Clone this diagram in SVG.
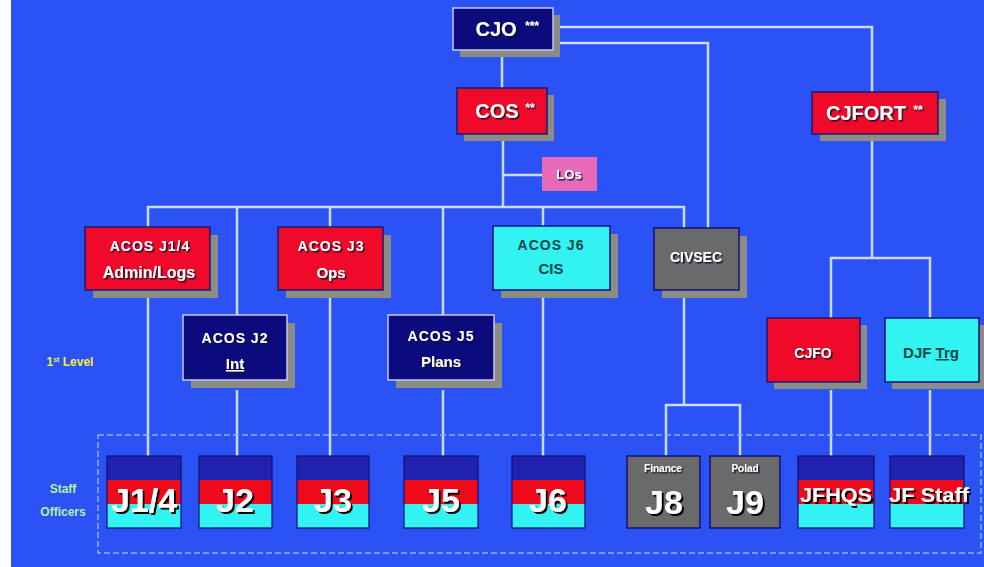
<svg xmlns="http://www.w3.org/2000/svg" width="984" height="567" viewBox="0 0 984 567">
<defs>
<filter id="ts" x="-10%" y="-10%" width="130%" height="140%"><feDropShadow dx="1.5" dy="1.5" stdDeviation="0.4" flood-color="#101030" flood-opacity="0.9"/></filter>
<filter id="tb" x="-10%" y="-10%" width="130%" height="140%"><feDropShadow dx="2" dy="2" stdDeviation="0.5" flood-color="#000000" flood-opacity="1"/></filter>
</defs>
<style>
text{font-family:"Liberation Sans",Arial,sans-serif;font-weight:bold;text-anchor:middle}
.sh{fill:#8c8c86}
.navy{fill:#0b0b7e;stroke:#c8c8ec;stroke-width:1.5}
.red{fill:#ee0a28;stroke:#1a1a70;stroke-width:1.5}
.cyan{fill:#33f2f2;stroke:#10107a;stroke-width:1.5}
.gray{fill:#6a6a6a;stroke:#10107a;stroke-width:1.5}
.pink{fill:#e66ab8}
.wt{fill:#ffffff;filter:url(#ts)}
.dt{fill:#004848}
.ln{fill:none;stroke:#c9dcff;stroke-width:2.5}
.bt{fill:#2222b0}
.br{fill:#ee0a1a}
.bc{fill:#33f2f2}
.bo{fill:none;stroke:#101070;stroke-width:1.2}
.big{fill:#ffffff;font-size:34px;filter:url(#tb)}
.mid{fill:#ffffff;font-size:20px;filter:url(#tb)}
</style>
<rect x="0" y="0" width="984" height="567" fill="#ffffff"/>
<rect x="11" y="0" width="973" height="567" fill="#2b52f4"/>

<g id="connectors">
<polyline class="ln" points="560,27 872,27 872,92"/>
<polyline class="ln" points="560,43 708,43 708,228"/>
<line class="ln" x1="502" y1="50" x2="502" y2="88"/>
<line class="ln" x1="503" y1="140" x2="503" y2="207"/>
<line class="ln" x1="503" y1="175" x2="542" y2="175"/>
<polyline class="ln" points="148,227 148,207 684,207 684,228"/>
<line class="ln" x1="237" y1="207" x2="237" y2="315"/>
<line class="ln" x1="330" y1="207" x2="330" y2="227"/>
<line class="ln" x1="443" y1="207" x2="443" y2="315"/>
<line class="ln" x1="543" y1="207" x2="543" y2="226"/>
<line class="ln" x1="872" y1="141" x2="872" y2="258"/>
<polyline class="ln" points="831,318 831,258 930,258 930,318"/>
<line class="ln" x1="148" y1="298" x2="148" y2="456"/>
<line class="ln" x1="237" y1="390" x2="237" y2="456"/>
<line class="ln" x1="330" y1="298" x2="330" y2="456"/>
<line class="ln" x1="443" y1="390" x2="443" y2="456"/>
<line class="ln" x1="543" y1="298" x2="543" y2="456"/>
<line class="ln" x1="684" y1="298" x2="684" y2="405"/>
<polyline class="ln" points="666,456 666,405 740,405 740,456"/>
<line class="ln" x1="831" y1="390" x2="831" y2="456"/>
<line class="ln" x1="930" y1="390" x2="930" y2="456"/>
</g>

<rect x="98" y="435" width="883" height="118" fill="none" stroke="#8fb2ff" stroke-width="1.5" stroke-dasharray="6 3"/>

<text x="70" y="366" font-size="12" fill="#f0f040">1<tspan font-size="7" dy="-4">st</tspan><tspan dy="4"> Level</tspan></text>
<text x="63" y="493" font-size="12" fill="#b4f0a8">Staff</text>
<text x="63" y="516" font-size="12" fill="#b4f0a8">Officers</text>

<g id="cjo">
<rect class="sh" x="460" y="15" width="100" height="42"/>
<rect class="navy" x="453" y="8" width="100" height="42"/>
<text class="wt" x="496" y="36" font-size="20">CJO</text>
<text class="wt" x="532" y="30" font-size="12">***</text>
</g>
<g id="cos">
<rect class="sh" x="464" y="95" width="90" height="46"/>
<rect class="red" x="457" y="88" width="90" height="46"/>
<text class="wt" x="497" y="118" font-size="20">COS</text>
<text class="wt" x="530" y="112" font-size="12">**</text>
</g>
<g id="cjfort">
<rect class="sh" x="820" y="99" width="126" height="42"/>
<rect class="red" x="812" y="92" width="126" height="42"/>
<text class="wt" x="866" y="120" font-size="20">CJFORT</text>
<text class="wt" x="918" y="114" font-size="12">**</text>
</g>
<g id="los">
<rect class="pink" x="542" y="157" width="55" height="34"/>
<text class="wt" x="569" y="179" font-size="13">LOs</text>
</g>
<g id="acos-j14">
<rect class="sh" x="93" y="235" width="125" height="63"/>
<rect class="red" x="85" y="227" width="125" height="63"/>
<text class="wt" x="150" y="251" font-size="14" letter-spacing="1">ACOS J1/4</text>
<text class="wt" x="149" y="278" font-size="16">Admin/Logs</text>
</g>
<g id="acos-j3">
<rect class="sh" x="286" y="235" width="105" height="63"/>
<rect class="red" x="278" y="227" width="105" height="63"/>
<text class="wt" x="331" y="251" font-size="14" letter-spacing="1">ACOS J3</text>
<text class="wt" x="331" y="278" font-size="15">Ops</text>
</g>
<g id="acos-j6">
<rect class="sh" x="501" y="234" width="117" height="64"/>
<rect class="cyan" x="493" y="226" width="117" height="64"/>
<text class="dt" x="551" y="250" font-size="14" letter-spacing="1">ACOS J6</text>
<text class="dt" x="551" y="274" font-size="15">CIS</text>
</g>
<g id="civsec">
<rect class="sh" x="662" y="236" width="85" height="62"/>
<rect class="gray" x="654" y="228" width="85" height="62"/>
<text class="wt" x="696" y="262" font-size="14">CIVSEC</text>
</g>
<g id="acos-j2">
<rect class="sh" x="191" y="323" width="104" height="65"/>
<rect class="navy" x="183" y="315" width="104" height="65"/>
<text class="wt" x="235" y="343" font-size="14" letter-spacing="1">ACOS J2</text>
<text class="wt" x="235" y="369" font-size="15" text-decoration="underline">Int</text>
</g>
<g id="acos-j5">
<rect class="sh" x="396" y="323" width="106" height="65"/>
<rect class="navy" x="388" y="315" width="106" height="65"/>
<text class="wt" x="441" y="341" font-size="14" letter-spacing="1">ACOS J5</text>
<text class="wt" x="441" y="367" font-size="15">Plans</text>
</g>
<g id="cjfo">
<rect class="sh" x="774" y="325" width="93" height="64"/>
<rect class="red" x="767" y="318" width="93" height="64"/>
<text class="wt" x="813" y="358" font-size="14">CJFO</text>
</g>
<g id="djf-trg">
<rect class="sh" x="892" y="325" width="92" height="64"/>
<rect class="cyan" x="885" y="318" width="94" height="64"/>
<text class="dt" x="931" y="358" font-size="15">DJF <tspan text-decoration="underline">Trg</tspan></text>
</g>

<g id="j14">
<rect class="bt" x="107" y="456" width="74" height="24"/><rect class="br" x="107" y="480" width="74" height="24"/><rect class="bc" x="107" y="504" width="74" height="24"/><rect class="bo" x="107" y="456" width="74" height="72"/>
<text class="big" x="144" y="512">J1/4</text>
</g>
<g id="j2">
<rect class="bt" x="199" y="456" width="73" height="24"/><rect class="br" x="199" y="480" width="73" height="24"/><rect class="bc" x="199" y="504" width="73" height="24"/><rect class="bo" x="199" y="456" width="73" height="72"/>
<text class="big" x="235" y="512">J2</text>
</g>
<g id="j3">
<rect class="bt" x="297" y="456" width="72" height="24"/><rect class="br" x="297" y="480" width="72" height="24"/><rect class="bc" x="297" y="504" width="72" height="24"/><rect class="bo" x="297" y="456" width="72" height="72"/>
<text class="big" x="333" y="512">J3</text>
</g>
<g id="j5">
<rect class="bt" x="404" y="456" width="74" height="24"/><rect class="br" x="404" y="480" width="74" height="24"/><rect class="bc" x="404" y="504" width="74" height="24"/><rect class="bo" x="404" y="456" width="74" height="72"/>
<text class="big" x="441" y="512">J5</text>
</g>
<g id="j6">
<rect class="bt" x="512" y="456" width="73" height="24"/><rect class="br" x="512" y="480" width="73" height="24"/><rect class="bc" x="512" y="504" width="73" height="24"/><rect class="bo" x="512" y="456" width="73" height="72"/>
<text class="big" x="548" y="512">J6</text>
</g>
<g id="j8">
<rect class="gray" x="627" y="456" width="73" height="72"/>
<text class="wt" x="663" y="472" font-size="10">Finance</text>
<text class="big" x="664" y="514">J8</text>
</g>
<g id="j9">
<rect class="gray" x="710" y="456" width="70" height="72"/>
<text class="wt" x="745" y="472" font-size="10">Polad</text>
<text class="big" x="745" y="514">J9</text>
</g>
<g id="jfhqs">
<rect class="bt" x="798" y="456" width="76" height="24"/><rect class="br" x="798" y="480" width="76" height="24"/><rect class="bc" x="798" y="504" width="76" height="24"/><rect class="bo" x="798" y="456" width="76" height="72"/>
<text class="mid" x="836" y="502" textLength="72" lengthAdjust="spacingAndGlyphs">JFHQS</text>
</g>
<g id="jf-staff">
<rect class="bt" x="890" y="456" width="74" height="24"/><rect class="br" x="890" y="480" width="74" height="24"/><rect class="bc" x="890" y="504" width="74" height="24"/><rect class="bo" x="890" y="456" width="74" height="72"/>
<text class="mid" x="929" y="502" textLength="80" lengthAdjust="spacingAndGlyphs">JF Staff</text>
</g>
</svg>
